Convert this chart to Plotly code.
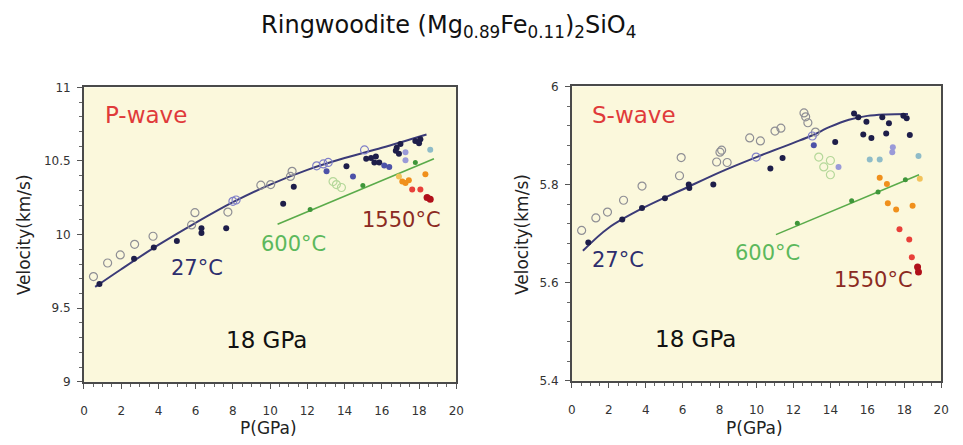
import plotly.graph_objects as go

# ---------------- P-wave data ----------------
p_open_gray_x = [0.51, 1.27, 1.95, 2.72, 3.71, 5.78, 5.96, 7.73, 9.5, 10.03, 11.09, 11.18]
p_open_gray_y = [9.715, 9.807, 9.862, 9.934, 9.989, 10.066, 10.149, 10.153, 10.336, 10.34, 10.395, 10.43]
p_open_lav_x = [8.0, 8.17, 12.5, 12.86, 13.12, 15.07]
p_open_lav_y = [10.226, 10.235, 10.467, 10.48, 10.49, 10.575]
p_open_green_x = [13.38, 13.56, 13.83]
p_open_green_y = [10.36, 10.34, 10.32]
p_navy_x = [0.83, 2.69, 3.75, 4.99, 6.31, 6.31, 7.64, 10.7, 11.27, 14.1, 15.16, 15.42, 15.68,
            15.6, 15.86, 16.75, 16.92, 17.0, 16.8, 17.8, 18.07, 18.0]
p_navy_y = [9.664, 9.836, 9.912, 9.956, 10.011, 10.044, 10.044, 10.21, 10.325, 10.465, 10.515, 10.52, 10.53,
            10.49, 10.49, 10.57, 10.55, 10.615, 10.59, 10.636, 10.647, 10.62]
p_blue_x = [13.03, 14.45, 16.13, 16.4]
p_blue_y = [10.43, 10.395, 10.47, 10.46]
p_lavf_x = [17.27, 17.27]
p_lavf_y = [10.56, 10.505]
p_cyan_x = [18.6]
p_cyan_y = [10.577]
p_green_x = [12.15, 14.98, 17.8]
p_green_y = [10.17, 10.334, 10.49]
p_green_line_x = [10.4, 18.8]
p_green_line_y = [10.07, 10.515]
p_yellow_x = [16.92]
p_yellow_y = [10.395]
p_orange_x = [17.1, 17.27, 17.45, 18.34]
p_orange_y = [10.36, 10.35, 10.37, 10.41]
p_red_x = [17.63, 18.07]
p_red_y = [10.307, 10.307]
p_dred_x = [18.43, 18.6]
p_dred_y = [10.252, 10.241]
p_fit_x = [0.6, 2, 4, 6, 8, 10, 12, 14, 16, 18.4]
p_fit_y = [9.645, 9.765, 9.93, 10.08, 10.22, 10.34, 10.44, 10.52, 10.59, 10.68]

# ---------------- S-wave data ----------------
s_open_gray_x = [0.53, 1.30, 1.93, 2.80, 3.80, 5.83, 5.92, 7.84, 8.02, 8.11, 8.41, 9.63, 10.21, 11.0, 11.32,
                 12.57, 12.66, 12.78, 13.19]
s_open_gray_y = [5.7065, 5.732, 5.744, 5.768, 5.797, 5.818, 5.855, 5.846, 5.866, 5.870, 5.845, 5.895, 5.889,
                 5.909, 5.915, 5.946, 5.938, 5.926, 5.907]
s_open_lav_x = [9.98, 13.02]
s_open_lav_y = [5.856, 5.899]
s_open_green_x = [13.37, 13.64, 14.0, 14.0]
s_open_green_y = [5.856, 5.836, 5.849, 5.82]
s_navy_x = [0.89, 2.73, 3.80, 5.04, 6.36, 6.33, 7.66, 10.75, 11.41, 14.26, 15.28, 15.51, 15.95, 16.81,
            17.17, 17.95, 18.13, 15.78, 16.22, 17.02, 18.30]
s_navy_y = [5.682, 5.729, 5.752, 5.772, 5.793, 5.800, 5.800, 5.833, 5.854, 5.887, 5.945, 5.937, 5.928, 5.937,
            5.925, 5.94, 5.935, 5.902, 5.895, 5.904, 5.901]
s_blue_x = [13.1]
s_blue_y = [5.88]
s_lavf_x = [14.44, 17.38, 17.35]
s_lavf_y = [5.836, 5.876, 5.866]
s_cyan_x = [16.13, 16.67, 18.77]
s_cyan_y = [5.851, 5.851, 5.858]
s_green_x = [12.21, 15.15, 16.58, 18.06]
s_green_y = [5.721, 5.767, 5.785, 5.81]
s_green_line_x = [11.05, 18.80]
s_green_line_y = [5.698, 5.82]
s_yellow_x = [18.84]
s_yellow_y = [5.812]
s_orange_x = [16.67, 17.06, 17.11, 17.56, 18.45]
s_orange_y = [5.814, 5.801, 5.762, 5.749, 5.757]
s_red_x = [17.74, 18.27, 18.41]
s_red_y = [5.709, 5.688, 5.652]
s_dred_x = [18.72, 18.77]
s_dred_y = [5.632, 5.622]
s_fit_x = [0.6, 2, 4, 6, 8, 10, 12, 13, 14, 15, 16, 17, 18.2]
s_fit_y = [5.665, 5.712, 5.755, 5.79, 5.825, 5.856, 5.885, 5.90, 5.918, 5.932, 5.94, 5.943, 5.944]

x_ticks = [0, 2, 4, 6, 8, 10, 12, 14, 16, 18, 20]
p_ticks = [9, 9.5, 10, 10.5, 11]
p_tick_text = ["9", "9.5", "10", "10.5", "11"]
s_ticks = [5.4, 5.6, 5.8, 6]
s_tick_text = ["5.4", "5.6", "5.8", "6"]

FONT = "DejaVu Sans"
NAVY = "#1e1e4a"
LINE27 = "#3b3b78"
GREEN_LINE = "#5aab4a"
GREEN_PT = "#3f963a"

fig = go.Figure()


def add_panel(xa, ya, d):
    def pts(x, y, color, size, open_=False, lw=1.2):
        if open_:
            marker = dict(symbol="circle-open", size=size, color=color, line=dict(width=lw, color=color))
        else:
            marker = dict(symbol="circle", size=size, color=color, line=dict(width=0))
        fig.add_trace(go.Scatter(x=x, y=y, mode="markers", marker=marker, xaxis=xa, yaxis=ya,
                                 showlegend=False, hoverinfo="x+y"))

    # fit lines
    fig.add_trace(go.Scatter(x=d["fit_x"], y=d["fit_y"], mode="lines", line=dict(color=LINE27, width=2, shape="spline"),
                             xaxis=xa, yaxis=ya, showlegend=False))
    fig.add_trace(go.Scatter(x=d["gl_x"], y=d["gl_y"], mode="lines", line=dict(color=GREEN_LINE, width=1.6),
                             xaxis=xa, yaxis=ya, showlegend=False))
    pts(d["og_x"], d["og_y"], "#8f8f95", 8, True)
    pts(d["ol_x"], d["ol_y"], "#8080c8", 8, True)
    pts(d["ogr_x"], d["ogr_y"], "#b5d89a", 8, True)
    pts(d["nv_x"], d["nv_y"], NAVY, 6)
    pts(d["bl_x"], d["bl_y"], "#4d52a8", 6)
    pts(d["lf_x"], d["lf_y"], "#9a9ad8", 6)
    pts(d["cy_x"], d["cy_y"], "#8fbcc8", 6)
    pts(d["g_x"], d["g_y"], GREEN_PT, 5)
    pts(d["y_x"], d["y_y"], "#f2c25a", 6)
    pts(d["o_x"], d["o_y"], "#f0901c", 6)
    pts(d["r_x"], d["r_y"], "#e8403a", 6)
    pts(d["dr_x"], d["dr_y"], "#b0101a", 7)


add_panel("x", "y", dict(fit_x=p_fit_x, fit_y=p_fit_y, gl_x=p_green_line_x, gl_y=p_green_line_y,
                         og_x=p_open_gray_x, og_y=p_open_gray_y, ol_x=p_open_lav_x, ol_y=p_open_lav_y,
                         ogr_x=p_open_green_x, ogr_y=p_open_green_y, nv_x=p_navy_x, nv_y=p_navy_y,
                         bl_x=p_blue_x, bl_y=p_blue_y, lf_x=p_lavf_x, lf_y=p_lavf_y, cy_x=p_cyan_x, cy_y=p_cyan_y,
                         g_x=p_green_x, g_y=p_green_y, y_x=p_yellow_x, y_y=p_yellow_y, o_x=p_orange_x,
                         o_y=p_orange_y, r_x=p_red_x, r_y=p_red_y, dr_x=p_dred_x, dr_y=p_dred_y))
add_panel("x2", "y2", dict(fit_x=s_fit_x, fit_y=s_fit_y, gl_x=s_green_line_x, gl_y=s_green_line_y,
                           og_x=s_open_gray_x, og_y=s_open_gray_y, ol_x=s_open_lav_x, ol_y=s_open_lav_y,
                           ogr_x=s_open_green_x, ogr_y=s_open_green_y, nv_x=s_navy_x, nv_y=s_navy_y,
                           bl_x=s_blue_x, bl_y=s_blue_y, lf_x=s_lavf_x, lf_y=s_lavf_y, cy_x=s_cyan_x, cy_y=s_cyan_y,
                           g_x=s_green_x, g_y=s_green_y, y_x=s_yellow_x, y_y=s_yellow_y, o_x=s_orange_x,
                           o_y=s_orange_y, r_x=s_red_x, r_y=s_red_y, dr_x=s_dred_x, dr_y=s_dred_y))

axis_common = dict(showline=True, linecolor="#4a4a4a", linewidth=1.8, mirror=True, showgrid=False,
                   zeroline=False, ticks="outside", ticklen=5, tickwidth=1, tickcolor="#555555",
                   tickfont=dict(family=FONT, size=12, color="#333333"))

fig.update_layout(
    width=963, height=445,
    margin=dict(l=0, r=0, t=0, b=0),
    paper_bgcolor="white",
    plot_bgcolor="#fbf8dc",
    font=dict(family=FONT),
    title=dict(text="Ringwoodite (Mg<sub>0.89</sub>Fe<sub>0.11</sub>)<sub>2</sub>SiO<sub>4</sub>",
               x=0.466, xanchor="center", y=0.945, yanchor="middle",
               font=dict(family=FONT, size=24, color="#111111")),
    xaxis=dict(domain=[0.0841, 0.4756], range=[0, 20], tickvals=x_ticks, anchor="y",
               minor=dict(dtick=0.5, ticklen=3, ticks="outside", tickcolor="#666666"),
               ticklabelstandoff=12, **axis_common),
    yaxis=dict(domain=[0.1303, 0.8135], range=[9, 11], tickvals=p_ticks, ticktext=p_tick_text, anchor="x",
               minor=dict(dtick=0.1, ticklen=3, ticks="outside", tickcolor="#666666"),
               ticklabelstandoff=4, **axis_common),
    xaxis2=dict(domain=[0.5971, 0.9855], range=[0, 20], tickvals=x_ticks, anchor="y2",
                minor=dict(dtick=0.5, ticklen=3, ticks="outside", tickcolor="#666666"),
                ticklabelstandoff=12, **axis_common),
    yaxis2=dict(domain=[0.1326, 0.8157], range=[5.4, 6], tickvals=s_ticks, ticktext=s_tick_text, anchor="x2",
                minor=dict(dtick=0.04, ticklen=3, ticks="outside", tickcolor="#666666"),
                ticklabelstandoff=4, **axis_common),
)

ann = []


def txt(text, x, y, xref, yref, color, size, xanchor="center", angle=0):
    ann.append(dict(text=text, x=x, y=y, xref=xref, yref=yref, showarrow=False, xanchor=xanchor,
                    yanchor="middle", textangle=angle, font=dict(family=FONT, size=size, color=color)))


# P panel labels
txt("P-wave", 1.0, 10.81, "x", "y", "#e03a3a", 23, xanchor="left")
txt("27°C", 6.05, 9.776, "x", "y", "#2e2e6e", 21)
txt("600°C", 11.25, 9.934, "x", "y", "#5cb85c", 21)
txt("1550°C", 17.03, 10.10, "x", "y", "#8b2a22", 21)
txt("18 GPa", 9.81, 9.283, "x", "y", "#111111", 23)
# S panel labels
txt("S-wave", 0.96, 5.941, "x2", "y2", "#e03a3a", 23, xanchor="left")
txt("27°C", 2.51, 5.647, "x2", "y2", "#2e2e6e", 21)
txt("600°C", 10.59, 5.661, "x2", "y2", "#5cb85c", 21)
txt("1550°C", 16.31, 5.605, "x2", "y2", "#8b2a22", 21)
txt("18 GPa", 6.68, 5.485, "x2", "y2", "#111111", 23)
# axis titles
txt("Velocity(km/s)", 20 / 963, 1 - 235 / 445, "paper", "paper", "#222222", 17, angle=-90)
txt("Velocity(km/s)", 524 / 963, 1 - 235 / 445, "paper", "paper", "#222222", 17, angle=-90)
txt("P(GPa)", 268 / 963, 1 - 435 / 445, "paper", "paper", "#222222", 17)
txt("P(GPa)", 760 / 963, 1 - 435 / 445, "paper", "paper", "#222222", 17)

fig.update_layout(annotations=ann)
fig.write_html("out.html")
